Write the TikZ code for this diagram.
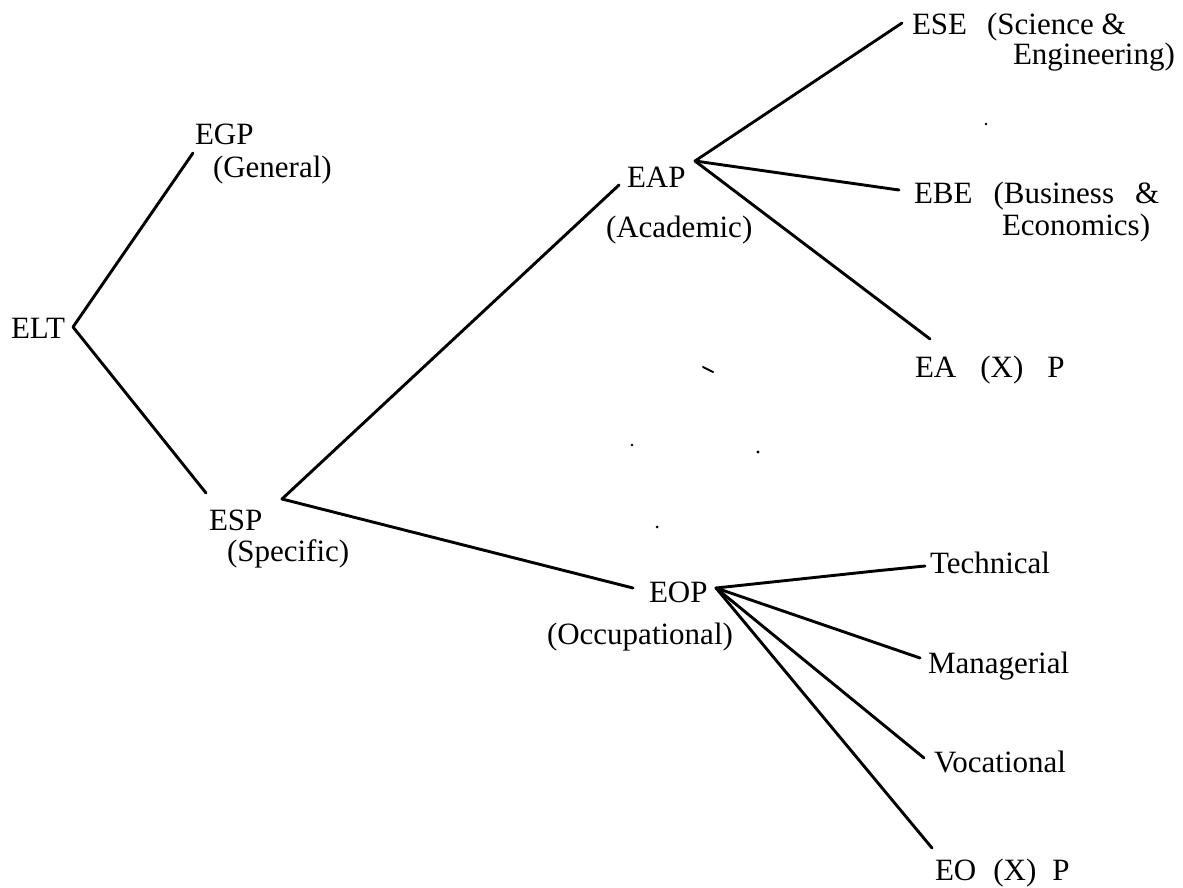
\documentclass[tikz,border=0pt]{standalone}
\usepackage{fontspec}
\setmainfont{Liberation Serif}
\begin{document}
\begin{tikzpicture}[x=1pt,y=-1pt,
  lbl/.style={anchor=base west,inner sep=0pt,outer sep=0pt,
    font=\fontsize{31}{36}\selectfont},
  branch/.style={line width=2.9pt,line cap=round,line join=round},
  speck/.style={fill=black}]
\useasboundingbox (0,0) rectangle (1183,888);

% labels
\node[lbl] (elt) at (11,338) {ELT};
\node[lbl] (egp) at (195,145) {EGP};
\node[lbl] (egpg) at (213,177) {(General)};
\node[lbl] (esp) at (209,530) {ESP};
\node[lbl] (esps) at (227,561) {(Specific)};
\node[lbl] (eap) at (627,187) {EAP};
\node[lbl] (eapa) at (606,237) {(Academic)};
\node[lbl] (eop) at (649,602) {EOP};
\node[lbl] (eopo) at (547,644) {(Occupational)};
\node[lbl] (ese) at (912,35) {ESE\hspace{20pt}(Science \&};
\node[lbl] (esee) at (1013,65) {Engineering)};
\node[lbl] (ebe) at (914,203) {EBE\hspace{21pt}(Business\hspace{21pt}\&};
\node[lbl] (ebee) at (1002,235) {Economics)};
\node[lbl] (eaxp) at (915,377) {EA\hspace{24pt}(X)\hspace{24pt}P};
\node[lbl] (tech) at (930,573) {Technical};
\node[lbl] (mana) at (928,673) {Managerial};
\node[lbl] (voca) at (934,772) {Vocational};
\node[lbl] (eoxp) at (935,880) {EO\hspace{17pt}(X)\hspace{16pt}P};

% branching points and line ends
\coordinate (eltv) at (73,327);
\coordinate (egpin) at (193,153);
\coordinate (espin) at (206,493);
\coordinate (espv) at (282,499);
\coordinate (eapin) at (619,185);
\coordinate (eopin) at (633,588);
\coordinate (eapv) at (695,161);
\coordinate (esein) at (902,23);
\coordinate (ebein) at (899,190);
\coordinate (eaxpin) at (930,339);
\coordinate (eopv) at (716,588);
\coordinate (techbend) at (875,571);
\coordinate (techin) at (925,566);
\coordinate (manain) at (920,658);
\coordinate (vocain) at (924,758);
\coordinate (eoxpin) at (932,848);

% tree branches
\draw[branch] (egpin) -- (eltv) -- (espin);
\draw[branch] (eapin) -- (espv) -- (eopin);
\draw[branch] (esein) -- (eapv) -- (ebein);
\draw[branch] (eapv) -- (eaxpin);
\draw[branch] (eopv) -- (techbend) -- (techin);
\draw[branch] (eopv) -- (manain);
\draw[branch] (eopv) -- (vocain);
\draw[branch] (eopv) -- (eoxpin);

% small stray marks
\fill[speck] (986,124) circle (1.3);
\draw[line width=2pt,line cap=round] (703,367) -- (713,372);
\fill[speck] (632,445) circle (1.3);
\fill[speck] (758,452) circle (1.6);
\fill[speck] (657,527) circle (1.5);
\end{tikzpicture}
\end{document}
